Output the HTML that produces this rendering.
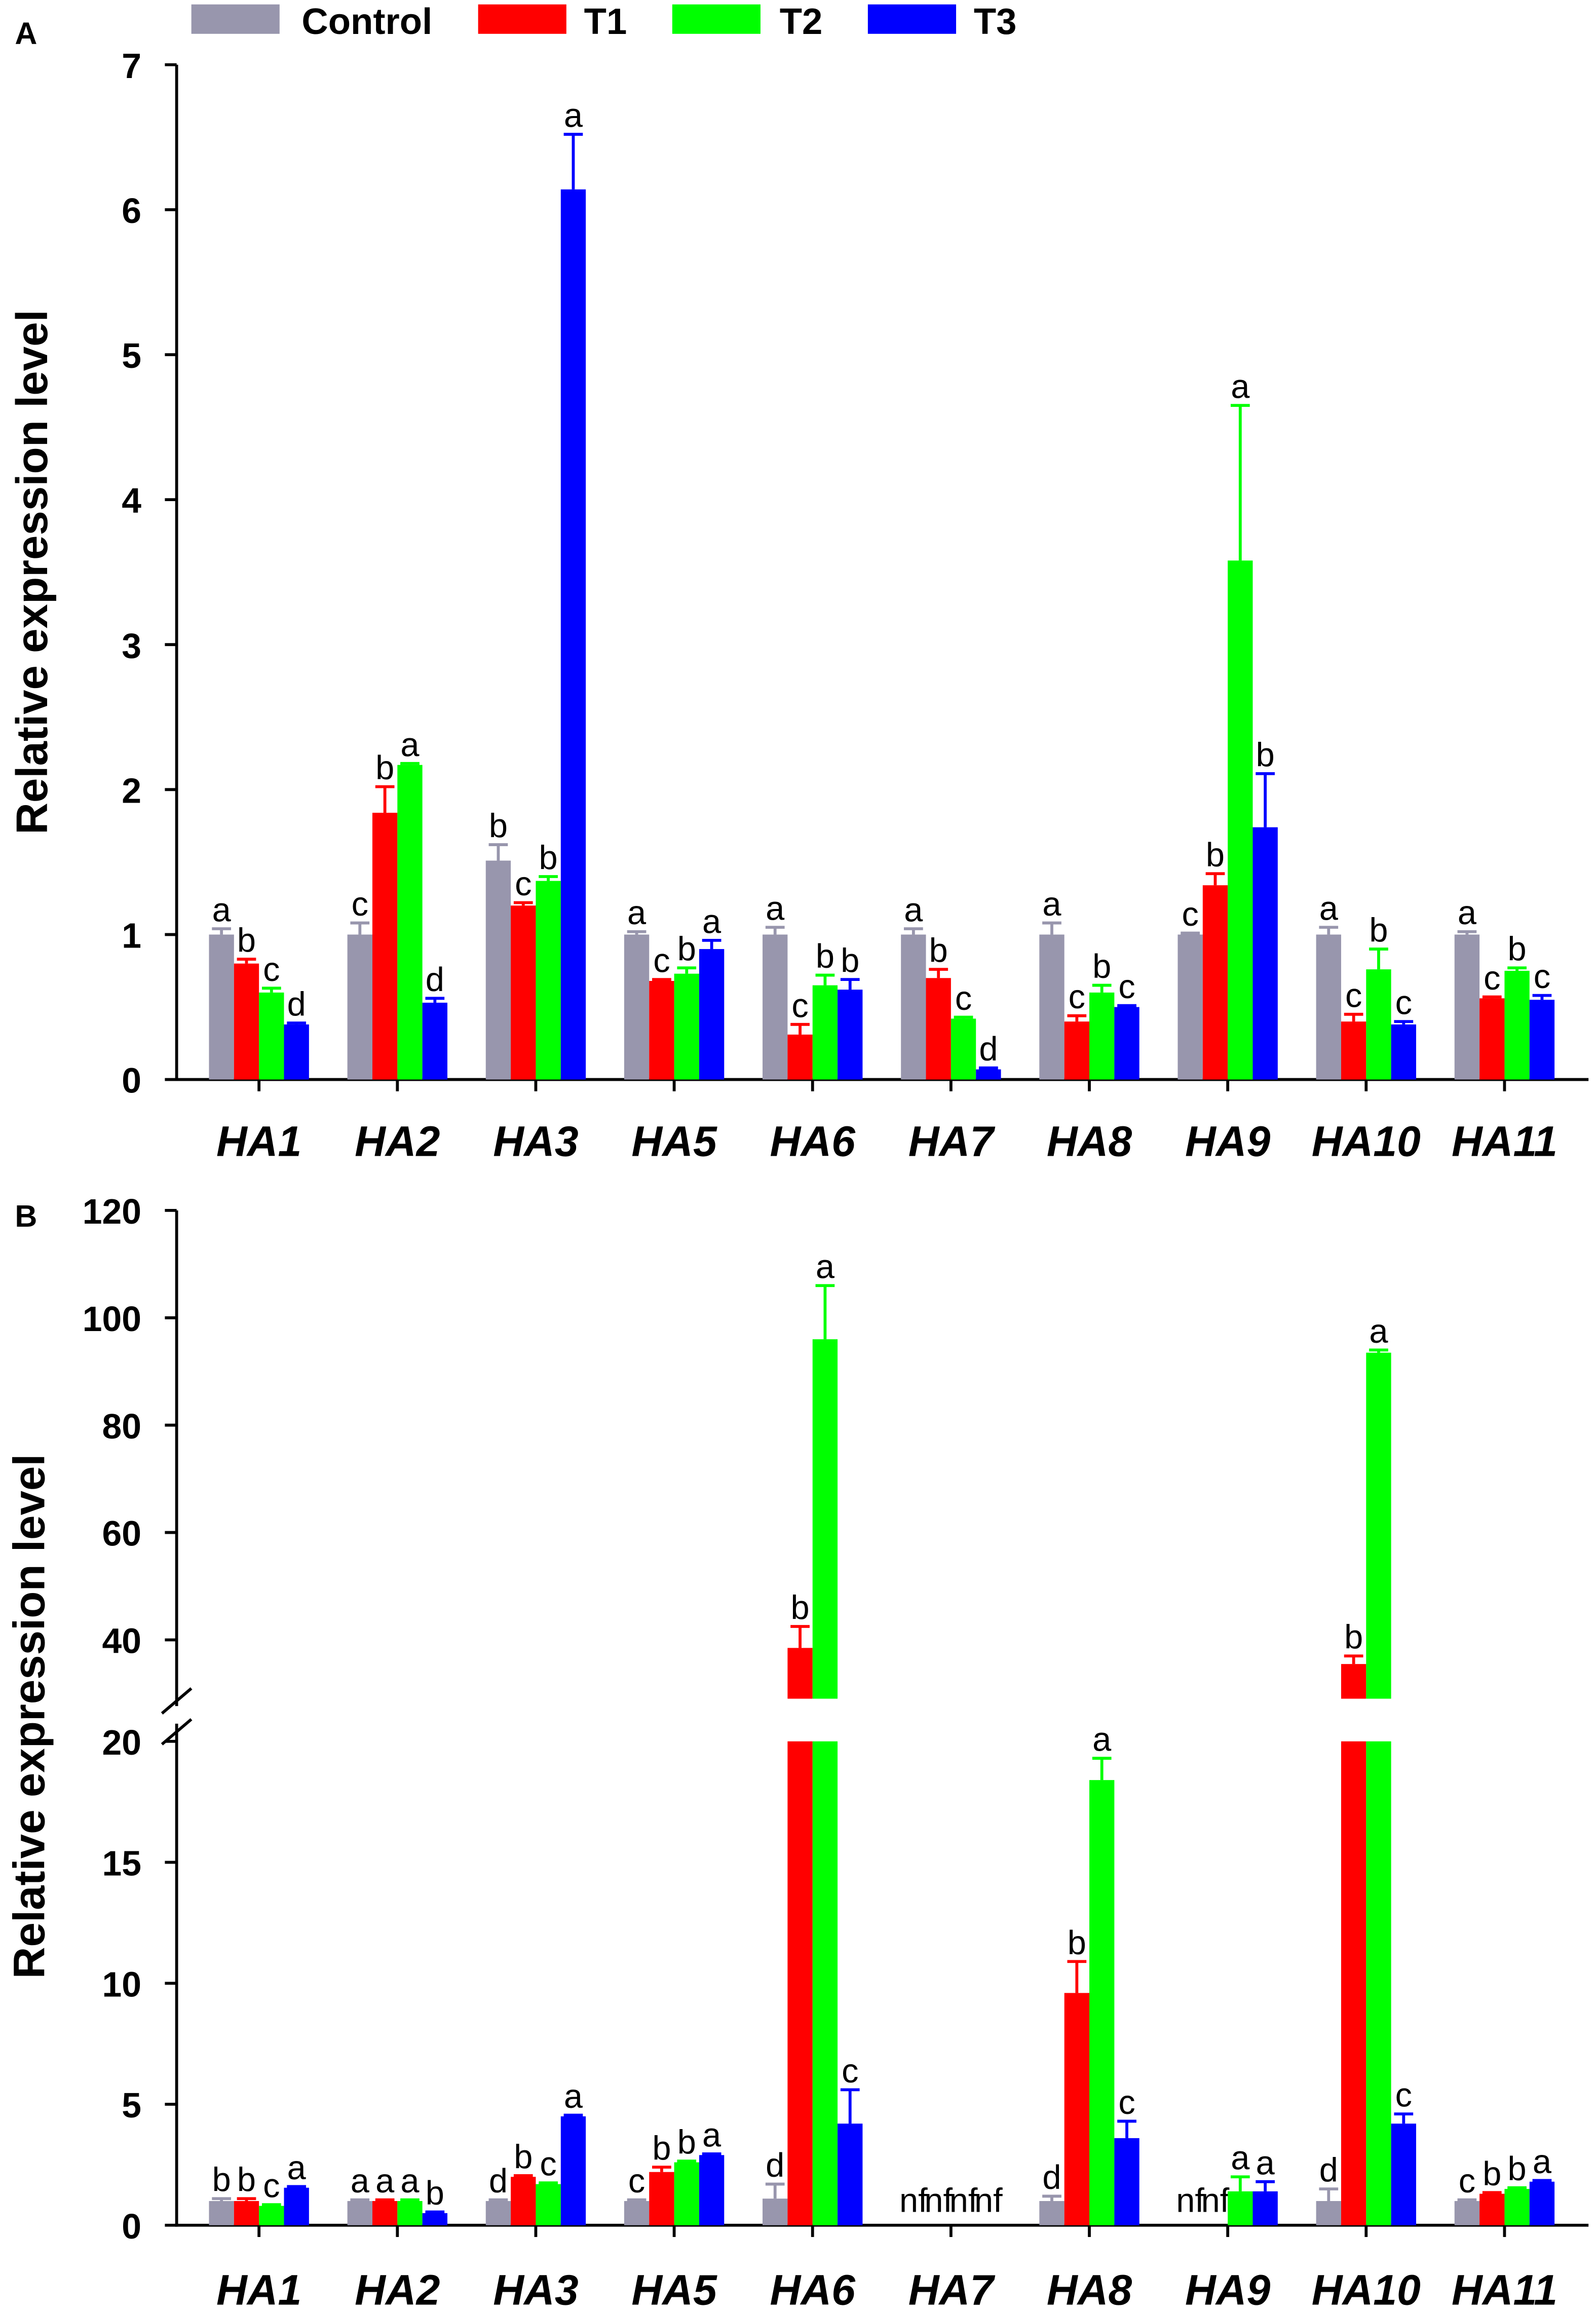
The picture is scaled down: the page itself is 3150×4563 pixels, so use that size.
<!DOCTYPE html>
<html><head><meta charset="utf-8"><style>
html,body{margin:0;padding:0;background:#fff;}
svg{display:block;}
text{font-family:"Liberation Sans",Arial,sans-serif;}
</style></head><body>
<svg id="chart" xmlns="http://www.w3.org/2000/svg" width="3150" height="4563" viewBox="0 0 1085 1572"></svg>
<script>
const genes = ["HA1","HA2","HA3","HA5","HA6","HA7","HA8","HA9","HA10","HA11"];
const seriesNames = ["Control","T1","T2","T3"];
const seriesColors = ["#9896ad","#ff0000","#00ff00","#0000ff"];
// Panel A
const aControl = [1.0,1.0,1.51,1.0,1.0,1.0,1.0,1.0,1.0,1.0];
const aT1 = [0.8,1.84,1.2,0.68,0.31,0.7,0.4,1.34,0.4,0.56];
const aT2 = [0.6,2.17,1.37,0.73,0.65,0.42,0.6,3.58,0.76,0.75];
const aT3 = [0.38,0.53,6.14,0.9,0.62,0.07,0.5,1.74,0.38,0.55];
const aErrControl = [0.04,0.08,0.11,0.02,0.05,0.04,0.08,0.01,0.05,0.02];
const aErrT1 = [0.03,0.18,0.02,0.01,0.07,0.06,0.04,0.08,0.05,0.01];
const aErrT2 = [0.03,0.01,0.03,0.04,0.07,0.01,0.05,1.07,0.14,0.02];
const aErrT3 = [0.01,0.03,0.38,0.06,0.07,0.01,0.01,0.37,0.02,0.03];
const aLetters = [["a","b","c","d"],["c","b","a","d"],["b","c","b","a"],["a","c","b","a"],["a","c","b","b"],["a","b","c","d"],["a","c","b","c"],["c","b","a","b"],["a","c","b","c"],["a","c","b","c"]];
const aTicks = [0,1,2,3,4,5,6,7];
// Panel B (null = not found)
const bControl = [1.0,1.0,1.0,1.0,1.1,null,1.0,null,1.0,1.0];
const bT1 = [1.0,1.0,2.0,2.2,38.5,null,9.6,null,35.5,1.3];
const bT2 = [0.8,1.0,1.7,2.6,96,null,18.4,1.4,93.5,1.5];
const bT3 = [1.55,0.5,4.5,2.9,4.2,null,3.6,1.4,4.2,1.8];
const bErrControl = [0.1,0.05,0.05,0.05,0.6,0,0.2,0,0.5,0.05];
const bErrT1 = [0.1,0.05,0.05,0.2,4,0,1.3,0,1.5,0.05];
const bErrT2 = [0.05,0.05,0.05,0.05,10,0,0.9,0.6,0.5,0.05];
const bErrT3 = [0.05,0.05,0.05,0.05,1.4,0,0.7,0.4,0.4,0.05];
const bLetters = [["b","b","c","a"],["a","a","a","b"],["d","b","c","a"],["c","b","b","a"],["d","b","a","c"],["nf","nf","nf","nf"],["d","b","a","c"],["nf","nf","a","a"],["d","b","a","c"],["c","b","b","a"]];
const bTicksLow = [0,5,10,15,20];
const bTicksHigh = [40,60,80,100,120];

const NS="http://www.w3.org/2000/svg";
const svg=document.getElementById('chart');
function mk(tag,attrs,parent){const e=document.createElementNS(NS,tag);for(const k in attrs)e.setAttribute(k,attrs[k]);(parent||svg).appendChild(e);return e;}
function txt(s,attrs){const e=mk('text',attrs);e.textContent=s;return e;}

const X0=120, X1=1080, GAP=94.1, FIRST=176, BW=17;
const TICKF=24, LETF=23, GENEF=29;
function xCenter(i){return FIRST+i*GAP;}
function xBar(i,s){return xCenter(i)-2*BW+s*BW;}
function yA(v){return 734-v*98.57;}
function yB(v){ if(v<=20) return 1513-v*16.45; return 1115-(v-40)*3.65; }

// legend
const legX=[130,325,457,590], legTX=[205,397,530,662];
seriesNames.forEach((n,s)=>{
  const r=mk('rect',{x:legX[s],y:3,width:60,height:20,fill:seriesColors[s]});
  
  
  const t=txt(n,{x:legTX[s],y:23,'font-size':25,'font-weight':'bold'});
  
  
});

let pl=txt("A",{x:10,y:30,'font-size':21,'font-weight':'bold'});

pl=txt("B",{x:10,y:834,'font-size':21,'font-weight':'bold'});


// ---- Panel A ----
let ax=mk('line',{x1:X0,y1:44,x2:X0,y2:735,stroke:'#000','stroke-width':2});

ax=mk('line',{x1:X0-1,y1:734,x2:X1,y2:734,stroke:'#000','stroke-width':2});

aTicks.forEach(t=>{
  mk('line',{x1:X0-8,y1:yA(t),x2:X0,y2:yA(t),stroke:'#000','stroke-width':2});
  const l=txt(String(t),{x:X0-24,y:yA(t)+9,'font-size':TICKF,'font-weight':'bold','text-anchor':'end'});
  
});
let yt=txt("Relative expression level",{x:0,y:0,'font-size':30,'font-weight':'bold','text-anchor':'middle',transform:'translate(32,389) rotate(-90)'});


const aVals=[aControl,aT1,aT2,aT3], aErrs=[aErrControl,aErrT1,aErrT2,aErrT3];
genes.forEach((g,i)=>{
  for(let s=0;s<4;s++){
    const v=aVals[s][i], e=aErrs[s][i], x=xBar(i,s), c=seriesColors[s];
    const r=mk('rect',{x:x,y:yA(v),width:BW,height:yA(0)-yA(v),fill:c});
    
    
    const top=yA(v+e);
    mk('line',{x1:x+BW/2,y1:yA(v),x2:x+BW/2,y2:top,stroke:c,'stroke-width':2});
    mk('line',{x1:x+2,y1:top,x2:x+BW-2,y2:top,stroke:c,'stroke-width':2});
    const lt=txt(aLetters[i][s],{x:x+BW/2,y:top-5,'font-size':LETF,'text-anchor':'middle'});
    
  }
  mk('line',{x1:xCenter(i),y1:734,x2:xCenter(i),y2:742,stroke:'#000','stroke-width':2});
  const gl=txt(g,{x:xCenter(i),y:786,'font-size':GENEF,'font-weight':'bold','font-style':'italic','text-anchor':'middle'});
  
});

// ---- Panel B ----
ax=mk('line',{x1:X0,y1:823,x2:X0,y2:1160,stroke:'#000','stroke-width':2});

ax=mk('line',{x1:X0,y1:1172,x2:X0,y2:1514,stroke:'#000','stroke-width':2});

mk('line',{x1:X0-10,y1:1165,x2:X0+10,y2:1148,stroke:'#000','stroke-width':2});
mk('line',{x1:X0-10,y1:1186,x2:X0+10,y2:1169,stroke:'#000','stroke-width':2});
ax=mk('line',{x1:X0-1,y1:1513,x2:X1,y2:1513,stroke:'#000','stroke-width':2});

bTicksLow.concat(bTicksHigh).forEach(t=>{
  mk('line',{x1:X0-8,y1:yB(t),x2:X0,y2:yB(t),stroke:'#000','stroke-width':2});
  const l=txt(String(t),{x:X0-24,y:yB(t)+9,'font-size':TICKF,'font-weight':'bold','text-anchor':'end'});
  
});
yt=txt("Relative expression level",{x:0,y:0,'font-size':30,'font-weight':'bold','text-anchor':'middle',transform:'translate(30,1167) rotate(-90)'});


const bVals=[bControl,bT1,bT2,bT3], bErrs=[bErrControl,bErrT1,bErrT2,bErrT3];
genes.forEach((g,i)=>{
  for(let s=0;s<4;s++){
    const v=bVals[s][i], x=xBar(i,s), c=seriesColors[s];
    if(v===null){
      const nf=txt(bLetters[i][s],{x:x+BW/2,y:1504,'font-size':LETF,'text-anchor':'middle'});
      
      continue;
    }
    const e=bErrs[s][i];
    if(v<=20){
      const r=mk('rect',{x:x,y:yB(v),width:BW,height:yB(0)-yB(v),fill:c});
      
      
    } else {
      const r=mk('rect',{x:x,y:yB(20),width:BW,height:yB(0)-yB(20),fill:c});
      
      
      const r2=mk('rect',{x:x,y:yB(v),width:BW,height:1155-yB(v),fill:c});
      
      
    }
    const top=yB(v+e);
    mk('line',{x1:x+BW/2,y1:yB(v),x2:x+BW/2,y2:top,stroke:c,'stroke-width':2});
    mk('line',{x1:x+2,y1:top,x2:x+BW-2,y2:top,stroke:c,'stroke-width':2});
    const lt=txt(bLetters[i][s],{x:x+BW/2,y:top-5,'font-size':LETF,'text-anchor':'middle'});
    
  }
  mk('line',{x1:xCenter(i),y1:1513,x2:xCenter(i),y2:1521,stroke:'#000','stroke-width':2});
  const gl=txt(g,{x:xCenter(i),y:1567,'font-size':GENEF,'font-weight':'bold','font-style':'italic','text-anchor':'middle'});
  
});
</script>
</body></html>
